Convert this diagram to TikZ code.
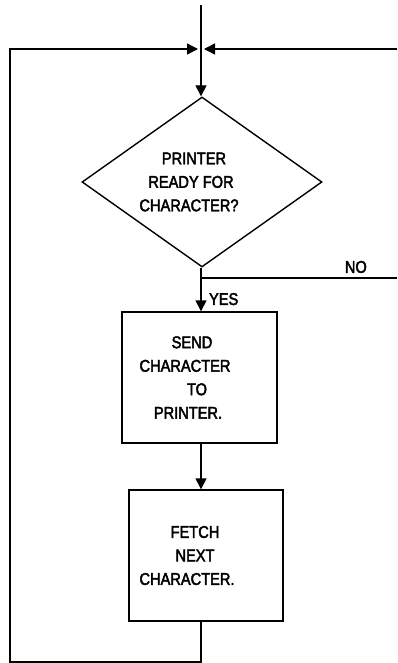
\documentclass[tikz,border=0pt]{standalone}
\usepackage{fontspec}
\newfontfamily\chartfont{Liberation Sans}[FakeStretch=0.86, FakeBold=2.5]
\usepackage{tikz}
\usetikzlibrary{arrows.meta, shapes.geometric, calc}
\tikzset{
  flow/.style={
    -{Triangle[length=11pt, width=11pt]},
    line width=1.4pt
  },
  plain line/.style={
    -,
    line width=1.4pt
  },
  decision box/.style={
    diamond,
    draw,
    line width=1.4pt,
    minimum width=240pt,
    minimum height=170pt,
    inner sep=0pt,
    align=center,
    font=\chartfont\fontsize{17}{23.5}\selectfont
  },
  action box/.style={
    rectangle,
    draw,
    line width=1.4pt,
    minimum width=155pt,
    minimum height=131pt,
    inner sep=0pt,
    align=center,
    font=\chartfont\fontsize{17}{23.5}\selectfont
  },
  branch label/.style={
    font=\chartfont\fontsize{17}{20}\selectfont
  }
}
\begin{document}
\begin{tikzpicture}[x=1pt, y=-1pt]
    \useasboundingbox (0, 0) rectangle (397, 663);

    % Eingang und Zusammenfuehrung
    \coordinate (top) at (201, 5);
    \coordinate (join) at (201, 49);
    \coordinate (rightin) at (397, 49);
    \coordinate (nobranch) at (201, 278);
    \coordinate (noend) at (397, 278);
    \coordinate (loopbottom) at (201, 662);
    \coordinate (loopleft) at (10, 49);

    % Bloecke
    \node[decision box] (ready) at (202, 182)
      {\hspace{-16pt}PRINTER\\\hspace{-22pt}READY FOR\\\hspace{-26pt}CHARACTER?};
    \node[action box] (send) at (199.5, 377.5)
      {\hspace{-15pt}SEND\\\hspace{-29pt}CHARACTER\\\hspace{-5pt}TO\\\hspace{-23pt}PRINTER.};
    \node[action box, minimum width=154pt] (fetch) at (206, 555.5)
      {\hspace{-22pt}FETCH\\\hspace{-22pt}NEXT\\\hspace{-38pt}CHARACTER.};

    % Verbindungen
    \draw[flow] (top) -- (join |- ready.north);
    \draw[flow] (join |- ready.south) -- (send.north -| join)
      node[pos=0.72, right=4pt, branch label] {YES};
    \draw[plain line] (nobranch) -- (noend)
      node[pos=0.79, above=1pt, branch label] {NO};
    \draw[flow] (send.south -| join) -- (fetch.north -| join);

    % Rueckfuehrungen
    \draw[flow, shorten >=3pt] (rightin) -- (join);
    \draw[flow, shorten >=3pt] (fetch.south -| join) -- (loopbottom) -| (loopleft) -- (join);

\end{tikzpicture}
\end{document}
